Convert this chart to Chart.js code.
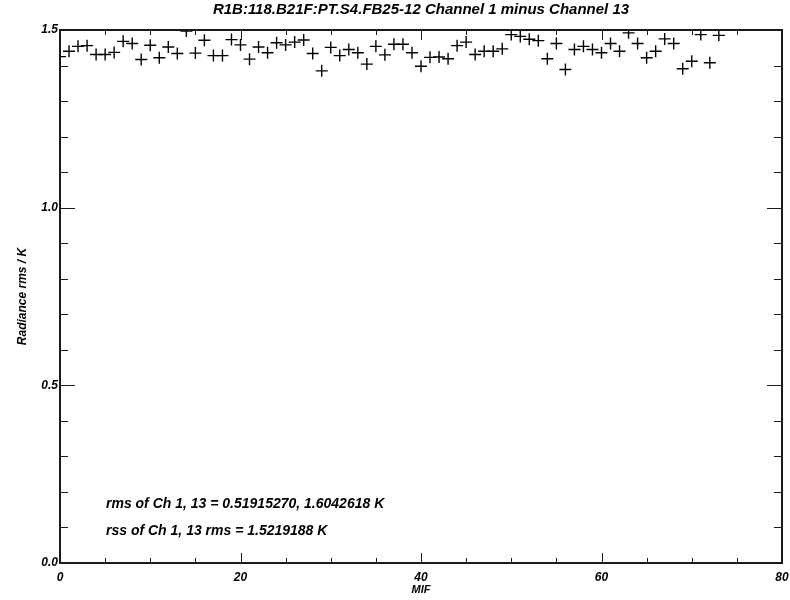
<!DOCTYPE html>
<html>
<head>
<meta charset="utf-8">
<script src="https://cdn.jsdelivr.net/npm/chart.js@4"></script>
<style>
  html, body { margin: 0; padding: 0; background: #fff; }
  #wrap { width: 790px; height: 600px; }
</style>
</head>
<body>
<div id="wrap"><canvas id="rms-chart"></canvas></div>
<script>
// Channel 1 minus channel 13 radiance rms per MIF
const MIF = [
  0, 1, 2, 3, 4, 5, 6, 7, 8, 9,
  10, 11, 12, 13, 14, 15, 16, 17, 18, 19,
  20, 21, 22, 23, 24, 25, 26, 27, 28, 29,
  30, 31, 32, 33, 34, 35, 36, 37, 38, 39,
  40, 41, 42, 43, 44, 45, 46, 47, 48, 49,
  50, 51, 52, 53, 54, 55, 56, 57, 58, 59,
  60, 61, 62, 63, 64, 65, 66, 67, 68, 69,
  70, 71, 72, 73
];
const RMS = [
  1.425, 1.440, 1.454, 1.456, 1.431, 1.431, 1.437, 1.468, 1.462, 1.417,
  1.457, 1.422, 1.452, 1.434, 1.497, 1.435, 1.471, 1.428, 1.428, 1.473,
  1.458, 1.418, 1.452, 1.436, 1.464, 1.458, 1.466, 1.472, 1.434, 1.385,
  1.451, 1.428, 1.445, 1.436, 1.404, 1.454, 1.430, 1.460, 1.460, 1.436,
  1.398, 1.423, 1.424, 1.419, 1.456, 1.466, 1.431, 1.440, 1.440, 1.447,
  1.487, 1.482, 1.474, 1.470, 1.419, 1.462, 1.389, 1.445, 1.454, 1.445,
  1.436, 1.462, 1.440, 1.492, 1.462, 1.422, 1.440, 1.475, 1.462, 1.391,
  1.412, 1.487, 1.408, 1.485
];
const X_RANGE = [0, 80];
const Y_RANGE = [0, 1.5];
const TITLE = 'R1B:118.B21F:PT.S4.FB25-12 Channel 1 minus Channel 13';
const NOTES = [
  'rms of Ch 1, 13 = 0.51915270, 1.6042618 K',
  'rss of Ch 1, 13 rms = 1.5219188 K'
];

const FONT = "'Liberation Sans', Arial, sans-serif";
const INK = '#000';

// IDL-style frame: box round the plot, ticks pointing inwards on all sides
const frameTicks = {
  id: 'frameTicks',
  afterDatasetsDraw(chart) {
    const { ctx, chartArea: a, scales: { x, y } } = chart;
    ctx.save();
    ctx.strokeStyle = '#1a1a1a';
    ctx.lineWidth = 1;
    ctx.beginPath();
    for (let v = X_RANGE[0]; v <= X_RANGE[1]; v += 5) {
      const px = Math.round(x.getPixelForValue(v)) + 0.5;
      const len = v % 20 === 0 ? 10 : 5;
      ctx.moveTo(px, a.bottom); ctx.lineTo(px, a.bottom - len);
      ctx.moveTo(px, a.top); ctx.lineTo(px, a.top + len);
    }
    for (let i = 0; i <= 15; i++) {
      const py = Math.round(y.getPixelForValue(i / 10)) + 0.5;
      const len = i % 5 === 0 ? 15 : 8;
      ctx.moveTo(a.left, py); ctx.lineTo(a.left + len, py);
      ctx.moveTo(a.right, py); ctx.lineTo(a.right - len, py);
    }
    ctx.stroke();
    ctx.lineWidth = 2;
    ctx.strokeRect(a.left, a.top, a.right - a.left, a.bottom - a.top);
    ctx.restore();
  }
};

// the two summary lines in the lower left of the plot
const notes = {
  id: 'notes',
  afterDraw(chart) {
    const { ctx, chartArea: a } = chart;
    ctx.save();
    ctx.fillStyle = INK;
    ctx.font = `italic bold 14px ${FONT}`;
    ctx.textBaseline = 'middle';
    NOTES.forEach((t, i) => ctx.fillText(t, a.left + 46, a.bottom - 59 + i * 27));
    ctx.restore();
  }
};

new Chart(document.getElementById('rms-chart'), {
  type: 'scatter',
  data: {
    datasets: [{
      data: MIF.map((m, i) => ({ x: m, y: RMS[i] })),
      pointStyle: 'cross',
      pointRadius: 6,
      pointHoverRadius: 6,
      borderColor: INK,
      borderWidth: 1.4,
      clip: 0
    }]
  },
  options: {
    responsive: true,
    maintainAspectRatio: false,
    animation: false,
    events: [],
    layout: { padding: { left: 0, right: 0, top: 0, bottom: 0 } },
    plugins: {
      legend: { display: false },
      tooltip: { enabled: false },
      title: {
        display: true,
        text: TITLE,
        fullSize: false,
        color: INK,
        font: { family: FONT, size: 15, weight: 'bold', style: 'italic', lineHeight: 1.2 },
        padding: { top: 1, bottom: 11 }
      }
    },
    scales: {
      x: {
        type: 'linear',
        min: X_RANGE[0],
        max: X_RANGE[1],
        // fixed axis strip; the "80" label may run into the right margin
        afterFit(s) { s.height = 37; s.paddingRight = 8; },
        grid: { display: false, drawTicks: false },
        border: { display: false },
        ticks: {
          stepSize: 20,
          padding: 7,
          color: INK,
          font: { family: FONT, size: 12, weight: 'bold', style: 'italic' }
        },
        title: {
          display: true,
          text: 'MIF',
          color: INK,
          padding: { top: 0, bottom: 3 },
          font: { family: FONT, size: 11, weight: 'bold', style: 'italic', lineHeight: 1.2 }
        }
      },
      y: {
        min: Y_RANGE[0],
        max: Y_RANGE[1],
        afterFit(s) { s.width = 60; },
        grid: { display: false, drawTicks: false },
        border: { display: false },
        ticks: {
          stepSize: 0.5,
          padding: 2,
          color: INK,
          font: { family: FONT, size: 12, weight: 'bold', style: 'italic' },
          callback: v => v.toFixed(1)
        },
        title: {
          display: true,
          text: 'Radiance rms / K',
          color: INK,
          padding: { top: 15, bottom: 0 },
          font: { family: FONT, size: 12, weight: 'bold', style: 'italic', lineHeight: 1.2 }
        }
      }
    }
  },
  plugins: [frameTicks, notes]
});
</script>
</body>
</html>
